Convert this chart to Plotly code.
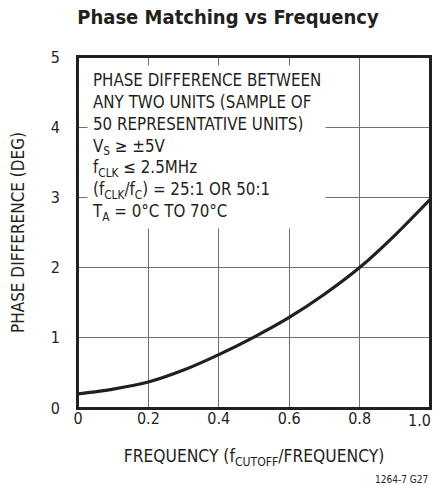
import plotly.graph_objects as go

# Data
freq_ratio = [0.0, 0.1, 0.2, 0.3, 0.4, 0.5, 0.6, 0.7, 0.8, 0.9, 1.0]
phase_diff = [0.20, 0.27, 0.37, 0.54, 0.76, 1.01, 1.29, 1.62, 2.00, 2.46, 2.97]

x_ticks = [0, 0.2, 0.4, 0.6, 0.8, 1.0]
x_tick_labels = ["0", "0.2", "0.4", "0.6", "0.8", "1.0"]
y_ticks = [0, 1, 2, 3, 4, 5]
y_tick_labels = ["0", "1", "2", "3", "4", "5"]

title_text = "<b>Phase Matching vs Frequency</b>"
x_title = "FREQUENCY (f<sub>CUTOFF</sub>/FREQUENCY)"
y_title = "PHASE DIFFERENCE (DEG)"
note_lines = [
    "PHASE DIFFERENCE BETWEEN",
    "ANY TWO UNITS (SAMPLE OF",
    "50 REPRESENTATIVE UNITS)",
    "V<sub>S</sub> ≥ ±5V",
    "f<sub>CLK</sub> ≤ 2.5MHz",
    "(f<sub>CLK</sub>/f<sub>C</sub>) = 25:1 OR 50:1",
    "T<sub>A</sub> = 0°C TO 70°C",
]
footer = "1264-7 G27"

FONT = "DejaVu Sans Condensed, Liberation Sans, Arial, sans-serif"
INK = "#231f20"

fig = go.Figure()
fig.add_trace(go.Scatter(
    x=freq_ratio, y=phase_diff, mode="lines",
    line=dict(color=INK, width=3.2, shape="spline", smoothing=0.8),
    showlegend=False, hoverinfo="skip", cliponaxis=False,
))

# the last x label is pulled inside the frame (as in the reference), so draw it separately
shown_x_labels = x_tick_labels[:-1] + [""]

# page body has an 8px margin; keep the figure inside the visible window
fig.update_layout(
    width=425, height=477,
    margin=dict(l=70, r=3, t=49, b=77),
    paper_bgcolor="white", plot_bgcolor="white",
    font=dict(family=FONT, color=INK, size=15),
    title=dict(text=title_text, x=220 / 425, xref="container", xanchor="center",
               y=0.995, yref="container", yanchor="top",
               font=dict(family=FONT, size=20, color=INK)),
    xaxis=dict(
        range=[0, 1.0], tickvals=x_ticks, ticktext=shown_x_labels,
        showgrid=True, gridcolor="#707070", gridwidth=1,
        showline=True, linecolor=INK, linewidth=2, mirror=True,
        zeroline=False, ticks="", ticklabelstandoff=-5, automargin=False,
        ticklabeloverflow="allow",
        tickfont=dict(family=FONT, size=16, color=INK),
        title=dict(text=x_title, font=dict(family=FONT, size=17.3, color=INK), standoff=23),
    ),
    yaxis=dict(
        range=[0, 5], tickvals=y_ticks, ticktext=y_tick_labels,
        showgrid=True, gridcolor="#707070", gridwidth=1,
        showline=True, linecolor=INK, linewidth=2, mirror=True,
        zeroline=False, ticks="", ticklabelstandoff=13, automargin=False,
        ticklabeloverflow="allow",
        tickfont=dict(family=FONT, size=16, color=INK),
        title=dict(text=y_title, font=dict(family=FONT, size=17, color=INK), standoff=22),
    ),
)

# plot frame
fig.add_shape(type="rect", xref="paper", yref="paper", x0=0, y0=0, x1=1, y1=1,
              line=dict(color=INK, width=2), fillcolor="rgba(0,0,0,0)", layer="above")

fig.add_annotation(
    x=x_ticks[-1], y=0, xref="x", yref="paper", xanchor="right", yanchor="top",
    xshift=3, yshift=-1, text=x_tick_labels[-1], showarrow=False,
    font=dict(family=FONT, size=16, color=INK),
)

fig.add_annotation(
    x=0.025, y=4.89, xref="x", yref="y", xanchor="left", yanchor="top",
    text="<br>".join(note_lines), align="left", showarrow=False,
    bgcolor="white", borderpad=4,
    font=dict(family=FONT, size=16.8, color=INK),
)

fig.add_annotation(
    x=1.0, y=-0.205, xref="paper", yref="paper", xanchor="right", yanchor="middle",
    text=footer, showarrow=False, font=dict(family=FONT, size=10, color=INK),
)

fig.write_html("out.html")
